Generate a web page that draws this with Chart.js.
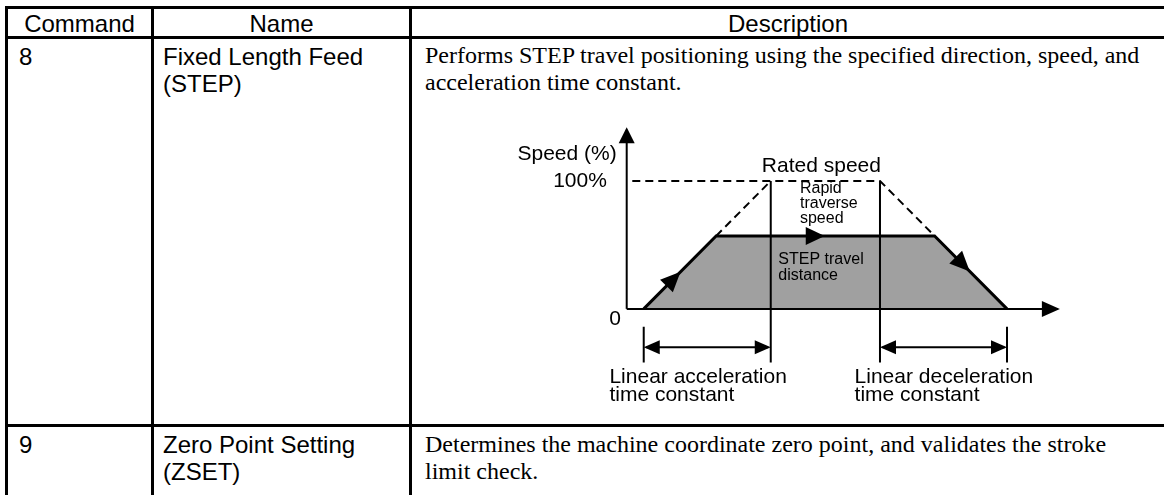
<!DOCTYPE html>
<html>
<head>
<meta charset="utf-8">
<script src="https://cdn.jsdelivr.net/npm/chart.js@4.4.0/dist/chart.umd.min.js"></script>
<style>
body { margin: 0; width: 1164px; height: 495px; overflow: hidden; background: #fff; position: relative; }
.ln { position: absolute; background: #000; }
.t { position: absolute; font-family: Arial, "Liberation Sans", sans-serif; font-size: 24px; line-height: 27px; color: #000; white-space: nowrap; }
.s { font-family: "Times New Roman", "Liberation Serif", serif; font-size: 24px; }
.c { text-align: center; }
#wrap { position: absolute; left: 504px; top: 117px; width: 597px; height: 307px; }
</style>
</head>
<body>
<div class="ln" style="left:5px;top:6px;width:1159px;height:3px"></div>
<div class="ln" style="left:5px;top:36px;width:1159px;height:3px"></div>
<div class="ln" style="left:5px;top:424px;width:1159px;height:3px"></div>
<div class="ln" style="left:5px;top:6px;width:3px;height:489px"></div>
<div class="ln" style="left:151px;top:6px;width:3px;height:489px"></div>
<div class="ln" style="left:409px;top:6px;width:3px;height:489px"></div>

<div class="t c" style="left:8px;top:10px;width:143px">Command</div>
<div class="t c" style="left:154px;top:10px;width:255px">Name</div>
<div class="t c" style="left:412px;top:10px;width:752px">Description</div>

<div class="t" style="left:19px;top:43px">8</div>
<div class="t" style="left:163px;top:43px">Fixed Length Feed<br>(STEP)</div>
<div class="t s" style="left:425px;top:42px">Performs STEP travel positioning using the specified direction, speed, and<br>acceleration time constant.</div>

<div class="t" style="left:19px;top:431px">9</div>
<div class="t" style="left:163px;top:431px">Zero Point Setting<br>(ZSET)</div>
<div class="t s" style="left:425px;top:431px">Determines the machine coordinate zero point, and validates the stroke<br>limit check.</div>

<div id="wrap"><canvas id="stepChart"></canvas></div>

<script>
// speed profile of the STEP move (time in % of time constant, speed in %)
const profileTime = [0, 57, 229, 286];
const profileSpeed = [0, 57, 57, 0];
// rated speed (dashed) profile
const ratedTime = [-9, 186, 229];
const ratedSpeed = [100, 100, 57];
const accelTime = [57, 100];
const accelSpeed = [57, 100];
// time constant marks
const accelEnd = 100;
const decelStart = 186;
const speedTicks = ['0', '100%'];

const pts = (xs, ys) => xs.map((v, i) => ({ x: v, y: ys[i] }));

const line = (data, extra) => Object.assign({
    data: data,
    showLine: true,
    borderColor: 'black',
    borderWidth: 2,
    pointRadius: 0,
    fill: false,
    tension: 0
}, extra);

const stepData = {
    datasets: [
        line(pts([-13.4, -13.4], [0, 140])),
        line(pts([-13.4, 326], [0, 0])),
        line(pts([accelEnd, accelEnd], [100, -42])),
        line(pts([decelStart, decelStart], [100, -42])),
        line(pts([0, 0], [-14, -42])),
        line(pts([286, 286], [-14, -42])),
        line(pts([2, 98], [-30, -30])),
        line(pts([decelStart + 2, 284], [-30, -30])),
        line(pts(ratedTime, ratedSpeed), { borderDash: [8, 5] }),
        line(pts(accelTime, accelSpeed), { borderDash: [8, 5] }),
        line(pts(profileTime, profileSpeed), {
            borderWidth: 3,
            fill: 'origin',
            backgroundColor: '#a0a0a0',
            order: 5
        })
    ]
};

const labelPlugin = {
    id: 'stepLabels',
    afterDatasetsDraw(chart) {
        const ctx = chart.ctx;
        const xs = chart.scales.x, ys = chart.scales.y;
        const px = t => xs.getPixelForValue(t);
        const py = v => ys.getPixelForValue(v);
        ctx.save();
        ctx.fillStyle = 'black';

        const head = (t, v, ang, len, hw) => {
            ctx.save();
            ctx.translate(px(t), py(v));
            ctx.rotate(ang);
            ctx.beginPath();
            ctx.moveTo(0, 0);
            ctx.lineTo(-len, -hw);
            ctx.lineTo(-len, hw);
            ctx.closePath();
            ctx.fill();
            ctx.restore();
        };
        const slope = (t0, v0, t1, v1) => Math.atan2(py(v1) - py(v0), px(t1) - px(t0));

        head(-13.4, 142, -Math.PI / 2, 16, 8);
        head(327.6, 0, 0, 18, 8);
        head(29, 29, slope(0, 0, 57, 57), 20, 9);
        head(142.5, 57, 0, 19, 9);
        head(256.7, 29.3, slope(229, 57, 286, 0), 20, 9);
        head(0, -30, Math.PI, 16, 7);
        head(accelEnd, -30, 0, 16, 7);
        head(decelStart, -30, Math.PI, 16, 7);
        head(286, -30, 0, 16, 7);

        ctx.textBaseline = 'alphabetic';
        const text = (s, t, v, align, size) => {
            ctx.font = size + 'px Arial, "Liberation Sans", sans-serif';
            ctx.textAlign = align;
            ctx.fillText(s, px(t), py(v));
        };
        text('Speed (%)', -21.3, 116.4, 'right', 21);
        text(speedTicks[1], -29, 95.3, 'right', 21);
        text(speedTicks[0], -18, -12.5, 'right', 21);
        text('Rated speed', 93, 107, 'left', 21);
        text('Rapid', 123, 90.6, 'left', 16);
        text('traverse', 123, 78.9, 'left', 16);
        text('speed', 123, 67.2, 'left', 16);
        text('STEP travel', 106, 35, 'left', 16);
        text('distance', 106, 22.7, 'left', 16);
        text('Linear acceleration', -27, -57.8, 'left', 21);
        text('time constant', -27, -72, 'left', 21);
        text('Linear deceleration', 166, -57.8, 'left', 21);
        text('time constant', 166, -72, 'left', 21);
        ctx.restore();
    }
};

const stepChart = new Chart(document.getElementById('stepChart'), {
    type: 'scatter',
    data: stepData,
    options: {
        responsive: true,
        maintainAspectRatio: false,
        animation: false,
        layout: { padding: 0 },
        plugins: { legend: { display: false }, tooltip: { enabled: false } },
        scales: {
            x: { type: 'linear', display: false, min: -110, max: 360 },
            y: { type: 'linear', display: false, min: -90, max: 150 }
        }
    },
    plugins: [labelPlugin]
});
</script>
</body>
</html>
